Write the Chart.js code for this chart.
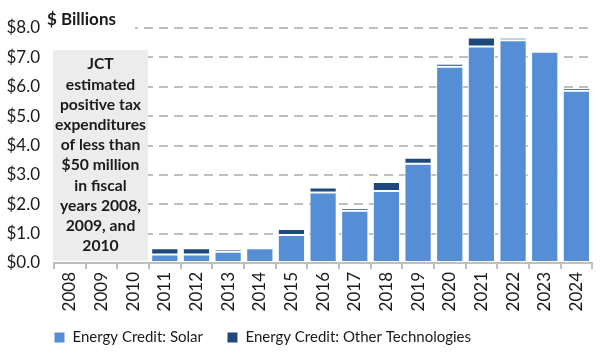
<!DOCTYPE html>
<html>
<head>
<meta charset="utf-8">
<script src="https://cdn.jsdelivr.net/npm/chart.js@4"></script>
<style>
  html, body { margin: 0; padding: 0; background: #fff; }
  #wrap { width: 600px; height: 360px; }
</style>
</head>
<body>
<div id="wrap"><canvas id="c" width="600" height="360"></canvas></div>
<script>
const years = ["2008","2009","2010","2011","2012","2013","2014","2015","2016","2017","2018","2019","2020","2021","2022","2023","2024"];
const solar = [0, 0, 0, 0.29, 0.29, 0.38, 0.50, 0.95, 2.40, 1.78, 2.45, 3.38, 6.68, 7.37, 7.58, 7.19, 5.86];
const otherTech = [0, 0, 0, 0.21, 0.21, 0.09, 0.07, 0.21, 0.17, 0.09, 0.31, 0.20, 0.10, 0.31, 0.09, 0.02, 0.10];
const yTickLabels = ["$0.0","$1.0","$2.0","$3.0","$4.0","$5.0","$6.0","$7.0","$8.0"];
const seriesNames = ["Energy Credit: Solar", "Energy Credit: Other Technologies"];
const noteLines = ["JCT", "estimated", "positive tax", "expenditures", "of less than", "$50 million", "in fiscal", "years 2008,", "2009, and", "2010"];
const unitTitle = "$ Billions";

const FONT = "Lato";
const TEXT = "#1a1a1a";
const LEGEND_PAD = 24;

const annotate = {
  id: "annotate",
  beforeLayout(chart) {
    const lg = chart.legend;
    if (lg && !lg._fixedFit) {
      const orig = lg.fit.bind(lg);
      lg.fit = function () { orig(); this.height = 48; };
      lg._fixedFit = true;
    }
  },
  afterLayout(chart) {
    const lg = chart.legend;
    if (lg) {
      lg.left = chart.chartArea.left - LEGEND_PAD;
      lg.top = 330 - LEGEND_PAD;
    }
  },
  beforeDatasetsDraw(chart) {
    const ctx = chart.ctx;
    const x = chart.scales.x, y = chart.scales.y;
    const bx0 = x.left - 1;
    const bx1 = (x.getPixelForValue(2) + x.getPixelForValue(3)) / 2 - 1;
    const by0 = y.getPixelForValue(7.25);
    const by1 = y.getPixelForValue(0.08);
    ctx.save();
    ctx.fillStyle = "#ececec";
    ctx.fillRect(bx0, by0, bx1 - bx0, by1 - by0);
    ctx.fillStyle = TEXT;
    ctx.font = "bold 15.7px " + FONT;
    ctx.textAlign = "center";
    ctx.textBaseline = "middle";
    const lh = 20.2;
    const cy = (by0 + by1) / 2;
    const start = cy - lh * (noteLines.length - 1) / 2;
    noteLines.forEach((t, i) => ctx.fillText(t, (bx0 + bx1) / 2, start + i * lh));
    ctx.font = "bold 17px " + FONT;
    ctx.textAlign = "left";
    const tw = ctx.measureText(unitTitle).width;
    const ty = y.getPixelForValue(8) - 8;
    ctx.fillStyle = "#fff";
    ctx.fillRect(x.left - 10, y.getPixelForValue(8) - 4, tw + 22, 8);
    ctx.fillStyle = TEXT;
    ctx.fillText(unitTitle, x.left - 7, ty);
    ctx.restore();
  }
};

new Chart(document.getElementById("c"), {
  type: "bar",
  data: {
    labels: years,
    datasets: [
      { label: seriesNames[0], data: solar, backgroundColor: "#558ed5", borderColor: "#ffffff", borderWidth: 1, borderSkipped: false },
      { label: seriesNames[1], data: otherTech, backgroundColor: "#1f497d", borderColor: "#ffffff", borderWidth: 1, borderSkipped: false }
    ]
  },
  options: {
    responsive: false,
    animation: false,
    devicePixelRatio: 1,
    layout: { padding: { top: 28, right: 7, left: 0, bottom: 0 } },
    datasets: { bar: { categoryPercentage: 1, barPercentage: 0.86 } },
    plugins: {
      legend: {
        position: "bottom",
        align: "start",
        labels: {
          boxWidth: 11, boxHeight: 11, padding: LEGEND_PAD,
          color: TEXT,
          font: { family: FONT, size: 15 }
        }
      },
      tooltip: { enabled: false }
    },
    scales: {
      x: {
        stacked: true,
        offset: true,
        afterFit(s) { s.height = 49; },
        grid: { display: true, drawOnChartArea: false, drawTicks: true, tickLength: 6, color: "#bfbfbf", lineWidth: 2, offset: true },
        border: { display: true, color: "#bfbfbf", width: 2 },
        ticks: { color: TEXT, font: { family: FONT, size: 17 }, maxRotation: 90, minRotation: 90, padding: 3, autoSkip: false }
      },
      y: {
        stacked: true,
        min: 0, max: 8,
        afterFit(s) { s.width = 54; },
        grid: { color: "#bfbfbf", lineWidth: 2, drawTicks: false },
        border: { display: false, dash: [9, 6] },
        ticks: {
          stepSize: 1, padding: 14,
          color: TEXT, font: { family: FONT, size: 17 },
          callback: (v) => yTickLabels[v]
        }
      }
    }
  },
  plugins: [annotate]
});
</script>
</body>
</html>
